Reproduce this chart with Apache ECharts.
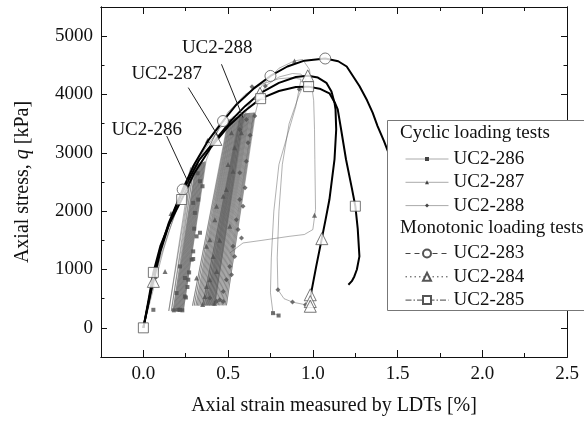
<!DOCTYPE html>
<html><head><meta charset="utf-8">
<script src="https://cdn.jsdelivr.net/npm/echarts@6/dist/echarts.min.js"></script>
<style>html,body{margin:0;padding:0;background:#fff}#c{width:584px;height:421px}</style>
</head><body><div id="c"></div>
<script>
// ---------- axis ticks ----------
const xMajor = [0, 0.5, 1, 1.5, 2, 2.5];
const xMinor = [0.25, 0.75, 1.25, 1.75, 2.25];
const yMajor = [0, 1000, 2000, 3000, 4000, 5000];
const yMinor = [500, 1500, 2500, 3500, 4500];

// ---------- monotonic loading tests ----------
const mono283 = [[0,0],[0.03,430],[0.06,880],[0.1,1350],[0.15,1800],[0.232,2371],[0.3,2800],[0.38,3200],[0.47,3545],[0.55,3830],[0.65,4100],[0.75,4318],[0.85,4480],[0.95,4580],[1.073,4617],[1.15,4570],[1.2,4480],[1.275,4146],[1.32,3900],[1.353,3689],[1.382,3458],[1.42,3200],[1.46,2900],[1.5,2600]];
const mono284 = [[0,0],[0.03,420],[0.059,796],[0.1,1300],[0.15,1760],[0.2,2130],[0.25,2440],[0.33,2880],[0.428,3230],[0.52,3560],[0.6,3800],[0.688,4020],[0.8,4200],[0.9,4300],[0.97,4320],[1.03,4290],[1.08,4200],[1.11,4050],[1.128,3860],[1.134,3745],[1.138,3400],[1.128,2886],[1.098,2199],[1.075,1850],[1.053,1529],[1.02,1053],[0.99,596],[0.985,450],[0.985,370]];
const mono285 = [[0,0],[0.03,470],[0.059,950],[0.1,1400],[0.15,1760],[0.226,2200],[0.3,2650],[0.4,3100],[0.5,3450],[0.6,3720],[0.692,3929],[0.8,4060],[0.9,4130],[0.975,4135],[1.04,4100],[1.098,4020],[1.13,3860],[1.147,3745],[1.167,3400],[1.196,2886],[1.23,2400],[1.251,2085],[1.265,1700],[1.275,1225],[1.26,1000],[1.245,881],[1.23,800],[1.21,739]];
const marks283 = [[0.232,2371],[0.47,3545],[0.75,4318],[1.073,4617]];
const marks284 = [[0.059,796],[0.428,3230],[0.688,4020],[0.97,4320],[1.053,1529],[0.985,567],[0.985,450],[0.985,370]];
const marks285 = [[0,0],[0.059,950],[0.226,2200],[0.692,3929],[0.975,4135],[1.251,2085]];

// ---------- cyclic loading tests ----------
const cyc286 = [[0,0],[0.03,420],[0.06,880],[0.1,1330],[0.15,1800],[0.2,2150],[0.25,2450],[0.28,2750],
 [0.15,290],[0.29,2780],[0.165,285],[0.3,2790],[0.175,285],[0.31,2800],[0.18,285],[0.315,2800],[0.185,285],[0.32,2810],
 [0.19,285],[0.325,2810],[0.195,285],[0.33,2820],[0.2,285],[0.335,2820],[0.205,285],[0.34,2830],[0.21,285],[0.345,2830],
 [0.215,285],[0.35,2840],[0.22,285],[0.355,2840],[0.225,285],[0.36,2850],[0.23,285],[0.365,2850],[0.235,285],[0.37,2860],
 [0.4,3100],[0.45,3450],[0.5,3700],[0.6,4000],[0.7,4180],[0.8,4270],[0.88,4290],[0.93,4260],[0.9,3800],[0.85,3300],
 [0.8,2800],[0.77,2000],[0.755,1200],[0.75,600],[0.765,252],[0.798,211]];
const cyc287 = [[0,0],[0.04,450],[0.08,900],[0.12,1350],[0.163,1750],[0.22,2250],[0.3,2750],[0.379,3213],[0.45,3500],[0.5,3560],
 [0.29,380],[0.505,3570],[0.3,380],[0.51,3570],[0.31,380],[0.515,3580],[0.318,380],[0.52,3580],[0.326,380],[0.525,3590],
 [0.334,380],[0.53,3590],[0.342,380],[0.535,3600],[0.35,380],[0.54,3600],[0.358,380],[0.545,3605],[0.366,380],[0.55,3610],
 [0.374,380],[0.555,3610],[0.382,380],[0.56,3615],[0.39,380],[0.566,3620],[0.398,380],[0.572,3620],[0.406,380],[0.58,3625],
 [0.414,380],[0.588,3630],[0.42,380],[0.595,3632],
 [0.62,3800],[0.7,4150],[0.8,4450],[0.89,4575],[0.94,4600],[0.98,4430],[1.005,3900],[1.01,3400],[1.012,2886],[1.016,2027],
 [1.0,1684],[0.95,1600],[0.86,1568],[0.7,1500],[0.588,1455],[0.51,1283]];
const cyc288 = [[0,0],[0.05,650],[0.1,1200],[0.15,1650],[0.2,2050],[0.28,2600],[0.36,3050],[0.45,3420],[0.53,3620],[0.57,3660],
 [0.35,385],[0.575,3660],[0.36,385],[0.58,3665],[0.37,385],[0.585,3665],[0.378,385],[0.59,3670],[0.386,385],[0.595,3670],
 [0.394,385],[0.6,3675],[0.402,385],[0.605,3675],[0.41,385],[0.61,3680],[0.418,385],[0.615,3680],[0.426,385],[0.62,3682],
 [0.434,385],[0.625,3684],[0.442,385],[0.63,3685],[0.45,385],[0.636,3686],[0.458,385],[0.642,3687],[0.466,385],[0.648,3688],
 [0.474,385],[0.652,3688],[0.482,385],[0.657,3690],[0.49,385],[0.662,3692],
 [0.68,3900],[0.72,4146],[0.8,4300],[0.88,4360],[0.93,4350],[0.96,4250],[0.92,4000],[0.86,3500],[0.82,2800],[0.8,2000],
 [0.79,1200],[0.794,653],[0.83,500],[0.88,441],[0.957,395],[0.98,385]];
const pts286 = [[0.334,2513],[0.349,2427],[0.304,1970],[0.334,1630],[0.285,1168],[0.294,1180],[0.265,825],[0.245,854],[0.216,1053],
 [0.245,538],[0.251,520],[0.196,596],[0.216,309],[0.294,1311],[0.314,1568],[0.324,2199],[0.294,2142],[0.206,309],[0.059,309],
 [0.23,300],[0.18,300],[0.27,950],[0.3,1700],[0.32,2650],[0.26,700],[0.765,252],[0.798,211]];
const pts287 = [[0.579,3345],[0.539,3087],[0.529,2685],[0.49,2371],[0.432,2084],[0.422,1855],[0.392,1512],[0.373,1397],[0.412,1225],
 [0.432,967],[0.392,825],[0.373,710],[0.363,538],[0.314,854],[0.52,3345],[0.471,2256],[0.51,1740],[0.379,3213],[0.163,1958],
 [0.069,882],[0.128,967],[1.01,1930],[0.42,420],[0.35,400],[0.45,1500],[0.5,2800],[0.892,4575]];
const pts288 = [[0.657,3630],[0.618,3173],[0.608,2857],[0.569,2657],[0.569,2199],[0.588,2084],[0.549,1855],[0.559,1684],[0.579,1541],
 [0.529,1397],[0.539,1225],[0.51,1053],[0.52,911],[0.49,825],[0.471,624],[0.451,481],[0.432,452],[0.471,452],[0.392,510],
 [0.608,3573],[0.569,3401],[0.641,4135],[0.72,4146],[0.92,4089],[0.794,653],[0.88,441],[0.957,395],[0.6,2400],[0.63,3300]];

// ---------- annotations (data coords) ----------
const annotations = [
  {text:'UC2-288', at:[0.436,4802], from:[0.461,4518], to:[0.588,3603]},
  {text:'UC2-287', at:[0.138,4347], from:[0.265,4118], to:[0.441,3287]},
  {text:'UC2-286', at:[0.02,3385], from:[0.138,3287], to:[0.275,2428]}
];

const FONT = 'Liberation Serif';
const chart = echarts.init(document.getElementById('c'), null, {renderer:'canvas'});

function xAx(pos, ticks, len, labels, name) {
  return {type:'value', position:pos, min:-0.25, max:2.5, interval:0.25,
    axisLine:{show:true, onZero:false, lineStyle:{color:'#111', width:1}},
    axisTick:{show:true, inside:true, length:len, customValues:ticks, lineStyle:{color:'#111'}},
    axisLabel:{show:!!labels, customValues:labels||[], margin:8, fontFamily:FONT, fontSize:19, color:'#111',
      formatter:v=>Number(v).toFixed(1)},
    splitLine:{show:false},
    name:name||'', nameLocation:'middle', nameGap:39,
    nameTextStyle:{fontFamily:FONT, fontSize:20, color:'#111'}};
}
function yAx(pos, ticks, len, labels, name) {
  return {type:'value', position:pos, min:-500, max:5500, interval:500,
    axisLine:{show:true, onZero:false, lineStyle:{color:'#111', width:1}},
    axisTick:{show:true, inside:true, length:len, customValues:ticks, lineStyle:{color:'#111'}},
    axisLabel:{show:!!labels, customValues:labels||[], margin:8, fontFamily:FONT, fontSize:19, color:'#111',
      formatter:v=>String(Math.round(v))},
    splitLine:{show:false},
    name:name||'', nameLocation:'middle', nameGap:68,
    nameTextStyle:{fontFamily:FONT, fontSize:20, color:'#111',
      rich:{a:{fontFamily:FONT, fontSize:20, color:'#111'}, i:{fontFamily:FONT, fontSize:20, fontStyle:'italic', color:'#111'}}}};
}

const cycLine = 'rgba(85,85,85,0.58)';
function cycSeries(name, data, sym) {
  return {name:name, type:'line', data:data, symbol:sym, showSymbol:false, z:1,
    lineStyle:{color:cycLine, width:0.8}, itemStyle:{color:'#444'}, emphasis:{disabled:true}, animation:false};
}
function cycPts(name, data, sym, size) {
  return {name:name+'-pts', type:'scatter', data:data, symbol:sym, symbolSize:size, z:2,
    itemStyle:{color:'#505050'}, emphasis:{disabled:true}, animation:false};
}
function monoSeries(name, data, sym) {
  return {name:name, type:'line', data:data, symbol:sym, showSymbol:false, z:3,
    lineStyle:{color:'#000', width:2}, itemStyle:{color:'#fff', borderColor:'#555', borderWidth:1},
    emphasis:{disabled:true}, animation:false};
}
function monoPts(name, data, sym, size) {
  return {name:name+'-pts', type:'scatter', data:data, symbol:sym, symbolSize:size, z:4,
    itemStyle:{color:'#fff', borderColor:'#555', borderWidth:1}, emphasis:{disabled:true}, animation:false};
}

const annSeries = {name:'annot', type:'line', data:[], z:5, animation:false,
  markLine:{silent:true, symbol:['none','arrow'], symbolSize:[0,8], animation:false,
    lineStyle:{color:'#222', width:1, type:'solid'}, label:{show:false},
    data: annotations.map(a=>[{coord:a.from},{coord:a.to}])}};

const option = {
  animation:false,
  backgroundColor:'#fff',
  grid:{left:101, right:17, top:7, bottom:64, containLabel:false},
  xAxis:[
    xAx('bottom', xMajor, 7, xMajor, 'Axial strain measured by LDTs [%]'),
    xAx('bottom', xMinor, 4, null),
    xAx('top', xMajor, 7, null),
    xAx('top', xMinor, 4, null)
  ],
  yAxis:[
    yAx('left', yMajor, 6, yMajor, '{a|Axial stress, }{i|q}{a| [kPa]}'),
    yAx('left', yMinor, 3.5, null),
    yAx('right', yMajor, 6, null),
    yAx('right', yMinor, 3.5, null)
  ],
  legend:[
    {orient:'vertical', left:400, top:144, itemWidth:43, itemHeight:5, itemGap:3.3, z:11,
     textStyle:{fontFamily:FONT, fontSize:19, color:'#111', lineHeight:20},
     data:[
       {name:'UC2-286', lineStyle:{color:'#aaa', width:1}},
       {name:'UC2-287', lineStyle:{color:'#aaa', width:1}},
       {name:'UC2-288', lineStyle:{color:'#aaa', width:1}}
     ]},
    {orient:'vertical', left:400, top:238.5, itemWidth:43, itemHeight:10, itemGap:3.3, z:11,
     textStyle:{fontFamily:FONT, fontSize:19, color:'#111', lineHeight:20},
     data:[
       {name:'UC2-283', lineStyle:{color:'#444', width:1, type:[5,4]}},
       {name:'UC2-284', lineStyle:{color:'#444', width:1, type:[1.5,3]}},
       {name:'UC2-285', lineStyle:{color:'#444', width:1, type:[6,2,1.5,2]}}
     ]}
  ],
  graphic:[
    {type:'rect', z:10, shape:{x:387.5, y:120.5, width:260, height:190}, style:{fill:'#fff', stroke:'#777', lineWidth:1}},
    {type:'text', z:12, left:400, top:123.5, style:{text:'Cyclic loading tests', font:'19px "Liberation Serif"', fill:'#111'}},
    {type:'text', z:12, left:400, top:218.5, style:{text:'Monotonic loading tests', font:'19px "Liberation Serif"', fill:'#111'}}
  ],
  series:[
    cycSeries('UC2-286', cyc286, 'rect'),
    cycSeries('UC2-287', cyc287, 'triangle'),
    cycSeries('UC2-288', cyc288, 'diamond'),
    cycPts('UC2-286', pts286, 'rect', 4),
    cycPts('UC2-287', pts287, 'triangle', 5),
    cycPts('UC2-288', pts288, 'diamond', 5),
    monoSeries('UC2-283', mono283, 'circle'),
    monoSeries('UC2-284', mono284, 'triangle'),
    monoSeries('UC2-285', mono285, 'rect'),
    monoPts('UC2-283', marks283, 'circle', 11),
    monoPts('UC2-284', marks284, 'triangle', 12),
    monoPts('UC2-285', marks285, 'rect', 10),
    annSeries
  ]
};
chart.setOption(option);

// annotation labels, placed through the chart's own coordinate conversion
const texts = annotations.map(a => {
  const p = chart.convertToPixel({gridIndex:0}, a.at);
  return {type:'text', z:6, x:p[0], y:p[1],
    style:{text:a.text, font:'19px "Liberation Serif"', fill:'#111', align:'center', verticalAlign:'middle'}};
});
chart.setOption({graphic: option.graphic.concat(texts)});
</script>
</body></html>
